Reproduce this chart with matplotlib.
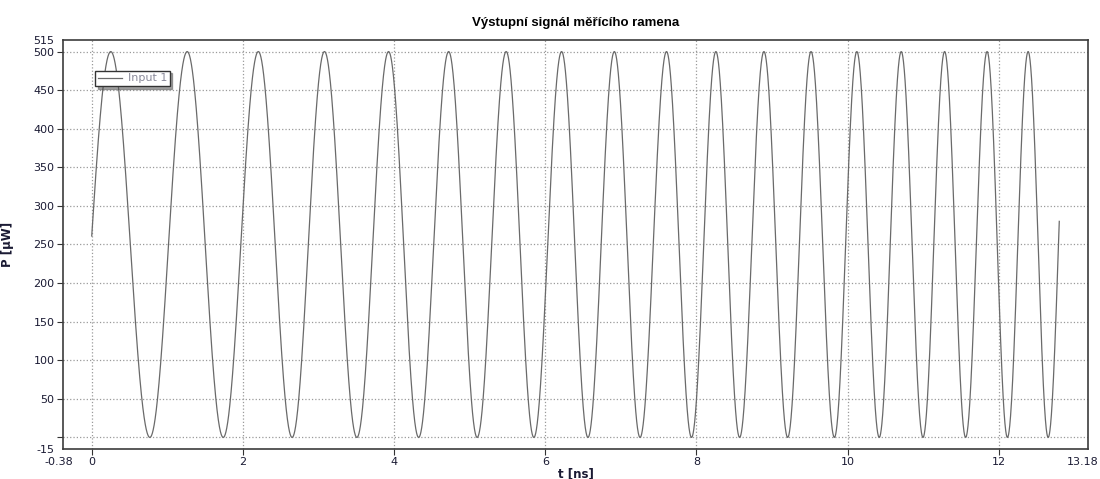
import numpy as np
import matplotlib
matplotlib.use('Agg')
import matplotlib.pyplot as plt
import matplotlib.transforms as mtransforms

# ---------------------------------- data ----------------------------------
# time of every maximum (P = 500 uW) and minimum (P = 0 uW), ns
peak_t = [0.252, 1.263, 2.204, 3.079, 3.927, 4.722, 5.483, 6.216, 6.914, 7.604,
          8.257, 8.893, 9.516, 10.122, 10.709, 11.283, 11.845, 12.388]
trough_t = [0.769, 1.740, 2.651, 3.508, 4.325, 5.099, 5.849, 6.565, 7.254, 7.935,
            8.571, 9.207, 9.825, 10.418, 10.997, 11.561, 12.114, 12.653]
p_max = 500.0
p_min = 0.0
start_t, start_p = 0.0, 261.0
end_t, end_p = 12.80, 280.0

series_name = 'Input 1'
title = 'Výstupní signál měřícího ramena'
xlabel = 't [ns]'
ylabel = 'P [µW]'
x_ticks = [0, 2, 4, 6, 8, 10, 12]
y_ticks = [0, 50, 100, 150, 200, 250, 300, 350, 400, 450, 500]
x_lim = (-0.38, 13.18)
y_lim = (-15, 515)

# ---------------------------------- curve through the read extrema ----------------------------------
mid = (p_max + p_min) / 2
amp = (p_max - p_min) / 2
knot_t = sorted(peak_t + trough_t)
knot_ph = [np.pi * i for i in range(len(knot_t))]
# phase of the start (rising towards the first peak) and of the end (rising after last trough)
ph0 = -np.arccos((start_p - mid) / amp)
ph1 = knot_ph[-1] + np.pi - np.arccos((end_p - mid) / amp)
knot_t = [start_t] + knot_t + [end_t]
knot_ph = [ph0] + knot_ph + [ph1]
t = np.linspace(start_t, end_t, 6000)
p = mid + amp * np.cos(np.interp(t, knot_t, knot_ph))

# ---------------------------------- plot ----------------------------------
fig = plt.figure(figsize=(11, 4.79), dpi=100)
ax = fig.add_axes([63 / 1100, 1 - 449 / 479, (1088 - 63) / 1100, (449 - 40) / 479])

ax.plot(t, p, color='#6a6a6a', lw=0.9, label=series_name)

ax.set_xlim(*x_lim)
ax.set_ylim(*y_lim)
ax.set_xticks(x_ticks)
ax.set_yticks(y_ticks)
ax.grid(True, ls=':', color='#9a9a9a', lw=0.9)

# end labels of the ranges (no grid lines there), 0 label hidden like in the original
ax.set_xticks(list(x_lim), labels=['%.2f' % v for v in x_lim], minor=True)
ax.set_yticks(list(y_lim), labels=['%d' % v for v in y_lim], minor=True)
ylabs = ['' if v == 0 else str(v) for v in y_ticks]
ax.set_yticklabels(ylabs)
ax.tick_params(which='major', labelsize=8, length=4, width=0.8, colors='#333333',
               labelcolor='#1a1a33', pad=2)
ax.tick_params(which='minor', labelsize=8, length=0, labelcolor='#1a1a33', pad=6)

# shift the range end labels a bit like in the original
xmin_lab, xmax_lab = ax.get_xminorticklabels()
xmin_lab.set_transform(xmin_lab.get_transform() +
                       mtransforms.ScaledTranslation(-4 / 100, 0, fig.dpi_scale_trans))
xmax_lab.set_transform(xmax_lab.get_transform() +
                       mtransforms.ScaledTranslation(-5 / 100, 0, fig.dpi_scale_trans))

for s in ax.spines.values():
    s.set_color('#3c3c3c')
    s.set_linewidth(1.2)

ax.set_title(title, fontsize=9.5, fontweight='bold', family='Liberation Sans', pad=10)
ax.set_xlabel(xlabel, fontsize=8.5, fontweight='bold', labelpad=0, color='#1a1a33')
ax.set_ylabel(ylabel, fontsize=8.5, fontweight='bold', labelpad=14, color='#1a1a33')

leg = ax.legend(loc='upper left', bbox_to_anchor=(0.031, 0.925), fontsize=8,
                frameon=True, fancybox=False, shadow=True, borderpad=0.25,
                handlelength=2.2, handletextpad=0.5, borderaxespad=0)
leg.get_frame().set_edgecolor('#333333')
leg.get_frame().set_linewidth(1.0)
for txt in leg.get_texts():
    txt.set_color('#8a8a9a')

fig.savefig('out.png', dpi=100)
